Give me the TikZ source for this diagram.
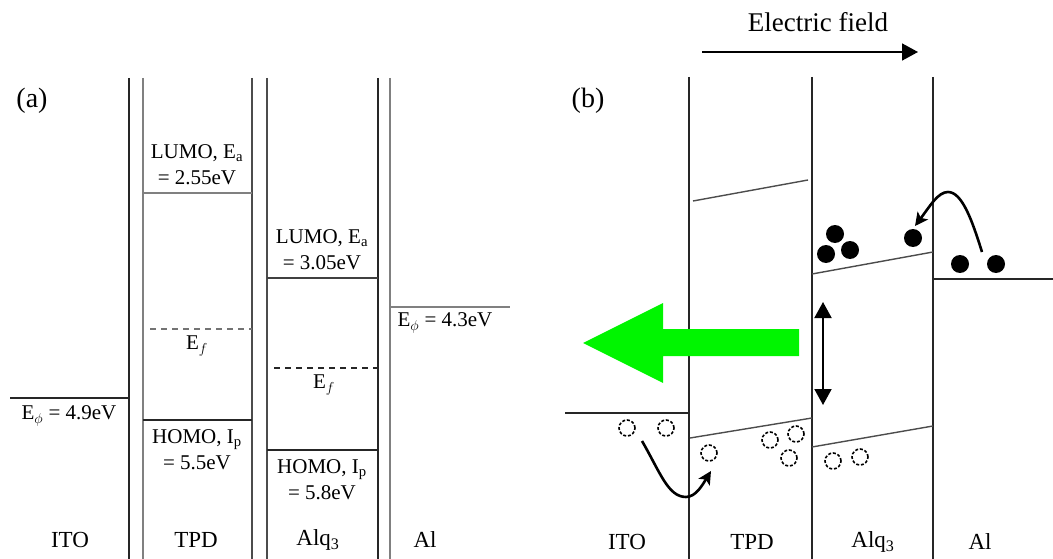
\documentclass[tikz,border=0pt]{standalone}
\usepackage{fontspec}
\setmainfont{Liberation Serif}
\usetikzlibrary{arrows.meta}
\definecolor{glow}{RGB}{0,245,0}

\begin{document}
\begin{tikzpicture}[x=1pt, y=-1pt, >={Triangle[width=17pt,length=16pt]},
      wall/.style={line width=2.2pt, black!85},
      wallgray/.style={line width=2.2pt, black!50},
      level/.style={line width=1.7pt, black!85},
      levelgray/.style={line width=2.2pt, black!50},
      fermi/.style={line width=1.5pt, dash pattern=on 6pt off 5pt},
      band/.style={line width=1.4pt, black!70},
      lbl/.style={font=\fontsize{21}{26}\selectfont, align=center, inner sep=0pt},
      layer/.style={font=\fontsize{23}{26}\selectfont, inner sep=0pt},
      panel/.style={font=\fontsize{28}{30}\selectfont, inner sep=0pt},
      hole/.style={circle, draw, line width=1.6pt, dash pattern=on 3pt off 1.8pt, minimum size=16pt, inner sep=0pt},
      electron/.style={circle, fill, minimum size=18pt, inner sep=0pt},
      hop/.style={->, line width=2.6pt, >={Stealth[width=13pt, length=13pt, inset=3pt]}}]
  \useasboundingbox (0,0) rectangle (1053,559);

  % (a) layer walls
  \foreach \x in {129,378} \draw[wall] (\x,78) -- (\x,559);
  \foreach \x in {143,390} \draw[wallgray] (\x,78) -- (\x,559);
  \foreach \x in {252,267} \draw[wall, black!70] (\x,78) -- (\x,559);
  % (a) energy levels
  \draw[level] (10,398) -- (129,398);
  \draw[levelgray] (143,193) -- (252,193);
  \draw[fermi, black!55] (150,329) -- (252,329);
  \draw[level] (143,420) -- (252,420);
  \draw[level, black!75] (267,278) -- (378,278);
  \draw[fermi, black!85] (274,368) -- (378,368);
  \draw[level] (267,450) -- (378,450);
  \draw[levelgray] (390,307) -- (510,307);
  % (a) labels
  \node[panel] (pa) at (32,101) {(a)};
  \node[lbl] (itowf) at (69,416) {E$_\phi$ = 4.9eV};
  \node[lbl] (tpdlumo) at (197,165) {LUMO, E$_\mathrm{a}$\\= 2.55eV};
  \node[lbl] (tpdef) at (197,346) {E$_f$};
  \node[lbl] (tpdhomo) at (197,450) {HOMO, I$_\mathrm{p}$\\= 5.5eV};
  \node[lbl] (alqlumo) at (322,250) {LUMO, E$_\mathrm{a}$\\= 3.05eV};
  \node[lbl] (alqef) at (324,385) {E$_f$};
  \node[lbl] (alqhomo) at (322,480) {HOMO, I$_\mathrm{p}$\\= 5.8eV};
  \node[lbl] (alwf) at (445,323) {E$_\phi$ = 4.3eV};
  \node[layer] (itoa) at (70,540) {ITO};
  \node[layer] (tpda) at (196,540) {TPD};
  \node[layer] (alqa) at (318,540) {Alq\textsubscript{3}};
  \node[layer] (ala) at (425,540) {Al};

  % (b) layer walls
  \foreach \x in {689,812,933} \draw[wall, line width=1.9pt] (\x,77) -- (\x,559);
  % (b) tilted bands under field
  \draw[level, line width=1.5pt] (565,413) -- (689,413);
  \draw[band] (693,201) -- (808,180);
  \draw[band] (690,438) -- (812,418);
  \draw[band] (812,274) -- (933,252);
  \draw[band] (812,447) -- (933,426);
  \draw[level, line width=1.5pt] (933,279) -- (1053,279);
  % (b) labels
  \node[panel] (pb) at (588,101) {(b)};
  \node[font=\fontsize{27}{30}\selectfont, inner sep=0pt] (field) at (818,22) {Electric field};
  \coordinate (f0) at (702,52);
  \coordinate (f1) at (918,52);
  \draw[->, line width=1.7pt] (f0) -- (f1);
  \node[layer] (itob) at (627,542) {ITO};
  \node[layer] (tpdb) at (752,542) {TPD};
  \node[layer] (alqb) at (873,542) {Alq\textsubscript{3}};
  \node[layer] (alb) at (980,542) {Al};
  % holes and electrons
  \foreach \x/\y [count=\i] in {627/428, 666/428, 709/453, 770/440, 796/434, 789/458, 833/461, 860/457}
    \node[hole] (h\i) at (\x,\y) {};
  \foreach \x/\y [count=\i] in {826/254, 835/234, 850/250, 913/238, 960/264, 996/264}
    \node[electron] (e\i) at (\x,\y) {};
  % injection hops
  \coordinate (hs) at (642,441);
  \coordinate (ht) at (711,471);
  \draw[hop] (hs) .. controls (660,472) and (668,497) .. (686,497) .. controls (696,497) and (703,484) .. (ht);
  \coordinate (es) at (982,252);
  \coordinate (et) at (915,226);
  \draw[hop] (es) .. controls (972,220) and (962,192) .. (948,192) .. controls (938,192) and (930,206) .. (et);
  % band gap and emission
  \coordinate (g0) at (823,302);
  \coordinate (g1) at (823,405);
  \draw[<->, line width=2pt] (g0) -- (g1);
  \fill[glow] (799,329) -- (663,329) -- (663,303) -- (583,343) -- (663,383) -- (663,356) -- (799,356) -- cycle;
\end{tikzpicture}
\end{document}
